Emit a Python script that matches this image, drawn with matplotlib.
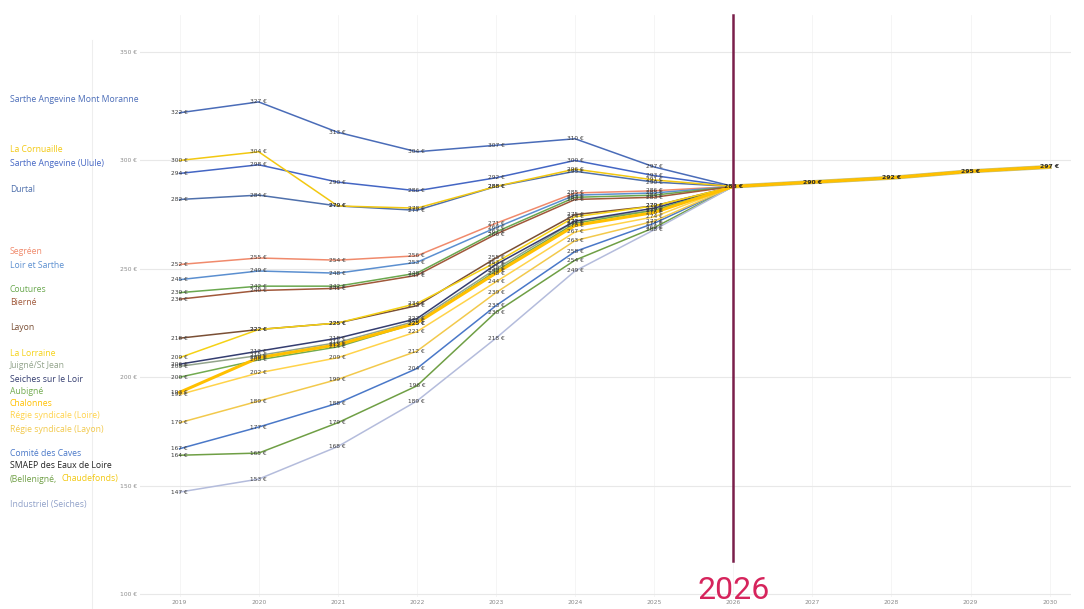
import matplotlib
matplotlib.use("Agg")
import matplotlib.pyplot as plt

years = [2019, 2020, 2021, 2022, 2023, 2024, 2025, 2026, 2027, 2028, 2029, 2030]
y_ticks = [100, 150, 200, 250, 300, 350]

# prix 2019 -> 2025 par service, puis tarif commun a partir de 2026
future = [288, 290, 292, 295, 297]

mont_moranne = [322, 327, 313, 304, 307, 310, 297]
cornuaille = [300, 304, 279, 278, 288, 296, 291]
sarthe_ang2 = [294, 298, 290, 286, 292, 300, 293]
durtal = [282, 284, 279, 277, 288, 295, 290]
segreen = [252, 255, 254, 256, 271, 285, 286]
loir_sarthe = [245, 249, 248, 253, 269, 284, 285]
coutures = [239, 242, 242, 248, 267, 283, 284]
bierne = [236, 240, 241, 247, 266, 282, 283]
layon = [218, 222, 225, 233, 255, 275, 279]
lorraine = [209, 222, 225, 234, 253, 274, 279]
seiches = [206, 212, 218, 227, 252, 272, 278]
juigne = [205, 210, 216, 226, 250, 272, 277]
aubigne = [200, 208, 214, 225, 249, 271, 277]
chalonnes = [193, 209, 215, 225, 248, 270, 276]
regie1 = [192, 202, 209, 221, 244, 267, 274]
regie2 = [179, 189, 199, 212, 239, 263, 272]
comite = [167, 177, 188, 204, 233, 258, 271]
smaep = [164, 165, 179, 196, 230, 254, 269]
industriel = [147, 153, 168, 189, 218, 249, 268]

series = [mont_moranne, cornuaille, sarthe_ang2, durtal, segreen, loir_sarthe,
          coutures, bierne, layon, lorraine, juigne, seiches, aubigne, chalonnes,
          regie1, regie2, comite, smaep, industriel]
names = ["Sarthe Angevine Mont Moranne", "La Cornuaille",
         "Sarthe Angevine (Ulule)", "Durtal", "Segréen", "Loir et Sarthe",
         "Coutures", "Bierné", "Layon", "La Lorraine", "Juigné/St Jean",
         "Seiches sur le Loir", "Aubigné", "Chalonnes",
         "Régie syndicale (Loire)", "Régie syndicale (Layon)",
         "Comité des Caves", "SMAEP des Eaux de Loire", "Industriel (Seiches)"]
colors = ["#4a6cb8", "#f2c811", "#4466c4", "#4f70ac", "#f08a6c", "#5b8fd0",
          "#6aa84f", "#a0583a", "#7a4f35", "#f5d215", "#93a48c", "#343d70",
          "#72ab50", "#ffc000", "#ffd34a", "#f2c94c", "#4a78c8", "#6f9f45",
          "#b4bcdc"]
label_y = [100, 150, 163, 189, 251, 265, 290, 302, 328, 353, 366, 379, 391,
           404, 416, 429, 454, 466, 505]
text_colors = colors[:17] + ["#222222", "#8fa0c8"]
yellows = {1, 9, 13, 14, 15}

fig = plt.figure(figsize=(10.84, 6.09), dpi=100)
ax = fig.add_axes([140 / 1084, 12 / 609, 931 / 1084, 582 / 609])
ax.set_xlim(2018.5, 2030.27)
ax.set_ylim(98.6, 367.1)

for i, vals in enumerate(series):
    ys = vals + future
    z = 3 + (1 if i in yellows else 0) + (1 if i == 13 else 0)
    lw = 2.2 if i == 13 else 1.1
    ax.plot(years, ys, color=colors[i], lw=lw, zorder=z)
    for x, v in zip(years[:7], vals):
        ax.text(x, v, f"{v} €", fontsize=4.2, color="#3a3a3a", ha="center",
                va="center", zorder=6)

# segment commun : ligne olive sous le jaune
ax.plot(years[7:], future, color="#9a9a3a", lw=3.0, zorder=4.5, alpha=0.6)
for x, v in zip(years[7:], future):
    ax.text(x, v, f"{v} €", fontsize=4.4, color="#2a2a2a", ha="center",
            va="center", zorder=6, fontweight="bold")

ax.set_yticks(y_ticks)
ax.set_yticklabels([f"{t} €" for t in y_ticks])
ax.set_xticks(years)
ax.set_xticklabels([str(y) for y in years])
ax.tick_params(axis="both", length=0, labelsize=4.3, labelcolor="#8a8a8a",
               pad=2)
ax.grid(axis="y", color="#e8e8e8", lw=0.8)
ax.grid(axis="x", color="#f4f4f4", lw=0.6)
ax.set_axisbelow(True)
for s in ax.spines.values():
    s.set_visible(False)

# ligne 2026
ax.plot([2026, 2026], [115, 367.1], color="#7a1f4a", lw=1.8, zorder=8,
        clip_on=False)
ax.text(2026, 101.8, "2026", color="#d6245c", fontsize=23, ha="center",
        va="center", family="Roboto", zorder=9)

# legende manuelle a gauche
fig.add_artist(plt.Line2D([92 / 1084, 92 / 1084], [0, 1 - 40 / 609],
                          color="#eeeeee", lw=0.8))
for name, yp, c in zip(names, label_y, text_colors):
    fig.text(10 / 1084, 1 - yp / 609, name, color=c, fontsize=6.2,
             va="center", family="Open Sans")
fig.text(10 / 1084, 1 - 479 / 609, "(Bellenigné,", color="#6f9f45",
         fontsize=6.2, va="center", family="Open Sans")
fig.text(62 / 1084, 1 - 479 / 609, "Chaudefonds)", color="#f2c811",
         fontsize=6.2, va="center", family="Open Sans")

fig.savefig("out.png", dpi=100)
